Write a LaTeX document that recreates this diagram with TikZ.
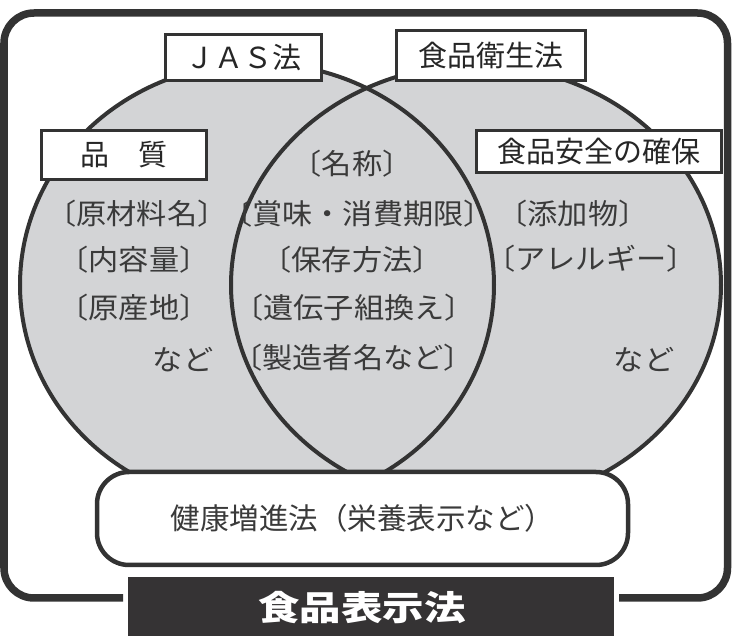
\documentclass[tikz,border=0pt]{standalone}
\usepackage{fontspec}
\newfontfamily\jp{Noto Sans CJK JP}
\newfontfamily\jpw[FakeStretch=1.06]{Noto Sans CJK JP}
\newfontfamily\jpt[FakeStretch=1.22]{Noto Sans CJK JP}
\definecolor{ln}{HTML}{333333}
\definecolor{vg}{HTML}{D3D4D6}
\definecolor{tx}{HTML}{3A3A3A}
\definecolor{dk}{HTML}{353334}
\tikzset{
  vennfill/.style={fill=vg},
  venndraw/.style={draw=ln, line width=4pt},
  outerline/.style={draw=ln, line width=7.5pt, rounded corners=30pt},
  hbox/.style={draw=ln, line width=4.5pt, fill=white, rounded corners=32pt, inner sep=0pt,
    font=\jp\fontsize{29.5}{32}\selectfont, text=tx},
  lab/.style={draw=ln, line width=3pt, fill=white, inner sep=0pt,
    font=\jp\fontsize{29}{32}\selectfont, text=black!85},
  itm/.style={inner sep=0pt, font=\jpw\fontsize{28.5}{30}\selectfont, text=tx},
  band/.style={fill=dk, inner sep=0pt},
  ttl/.style={inner sep=0pt, font=\jpt\bfseries\fontsize{34}{36}\selectfont, text=white}
}
\begin{document}
\begin{tikzpicture}[x=1pt,y=-1pt]
\useasboundingbox (0,0) rectangle (732,636);
% Venn ellipses
\fill[vennfill] (257,285) ellipse [x radius=237pt, y radius=222pt];
\fill[vennfill] (476,285) ellipse [x radius=245pt, y radius=220pt];
\draw[venndraw] (257,285) ellipse [x radius=237pt, y radius=222pt];
\draw[venndraw] (476,285) ellipse [x radius=245pt, y radius=220pt];
% health box
\node[hbox, minimum width=531pt, minimum height=93pt] (health) at (362.5,518.5) {健康増進法（栄養表示など）};
% labels
\node[lab, minimum width=156pt, minimum height=45.5pt] (jas) at (243.5,57.75) {ＪＡＳ法};
\node[lab, minimum width=188.5pt, minimum height=50pt] (eisei) at (490.75,55.5) {食品衛生法};
\node[lab, minimum width=165pt, minimum height=49pt] (hinshitsu) at (124,155) {品　質};
\node[lab, minimum width=245pt, minimum height=42pt] (anzen) at (599,151.5) {食品安全の確保};
% items
\node[itm] (l1) at (137,214) {〔原材料名〕};
\node[itm] (l2) at (134,260) {〔内容量〕};
\node[itm] (l3) at (134,308) {〔原産地〕};
\node[itm] (l4) at (183,360) {など};
\node[itm] (c1) at (352,164) {〔名称〕};
\node[itm] (c2) at (358,214) {〔賞味・消費期限〕};
\node[itm] (c3) at (352,260) {〔保存方法〕};
\node[itm] (c4) at (354,308) {〔遺伝子組換え〕};
\node[itm] (c5) at (353,358) {〔製造者名など〕};
\node[itm] (r1) at (573,214) {〔添加物〕};
\node[itm] (r2) at (591,259) {〔アレルギー〕};
\node[itm] (r3) at (644,360) {など};
% outer frame
\draw[outerline] (123,598) -- (4,598) -- (4,13) -- (727.5,13) -- (727.5,598) -- (619,598);
% bottom band
\node[band, minimum width=486pt, minimum height=62pt] (bandbox) at (371,608) {};
\node[ttl] (title) at (362,608) {食品表示法};
\end{tikzpicture}
\end{document}
